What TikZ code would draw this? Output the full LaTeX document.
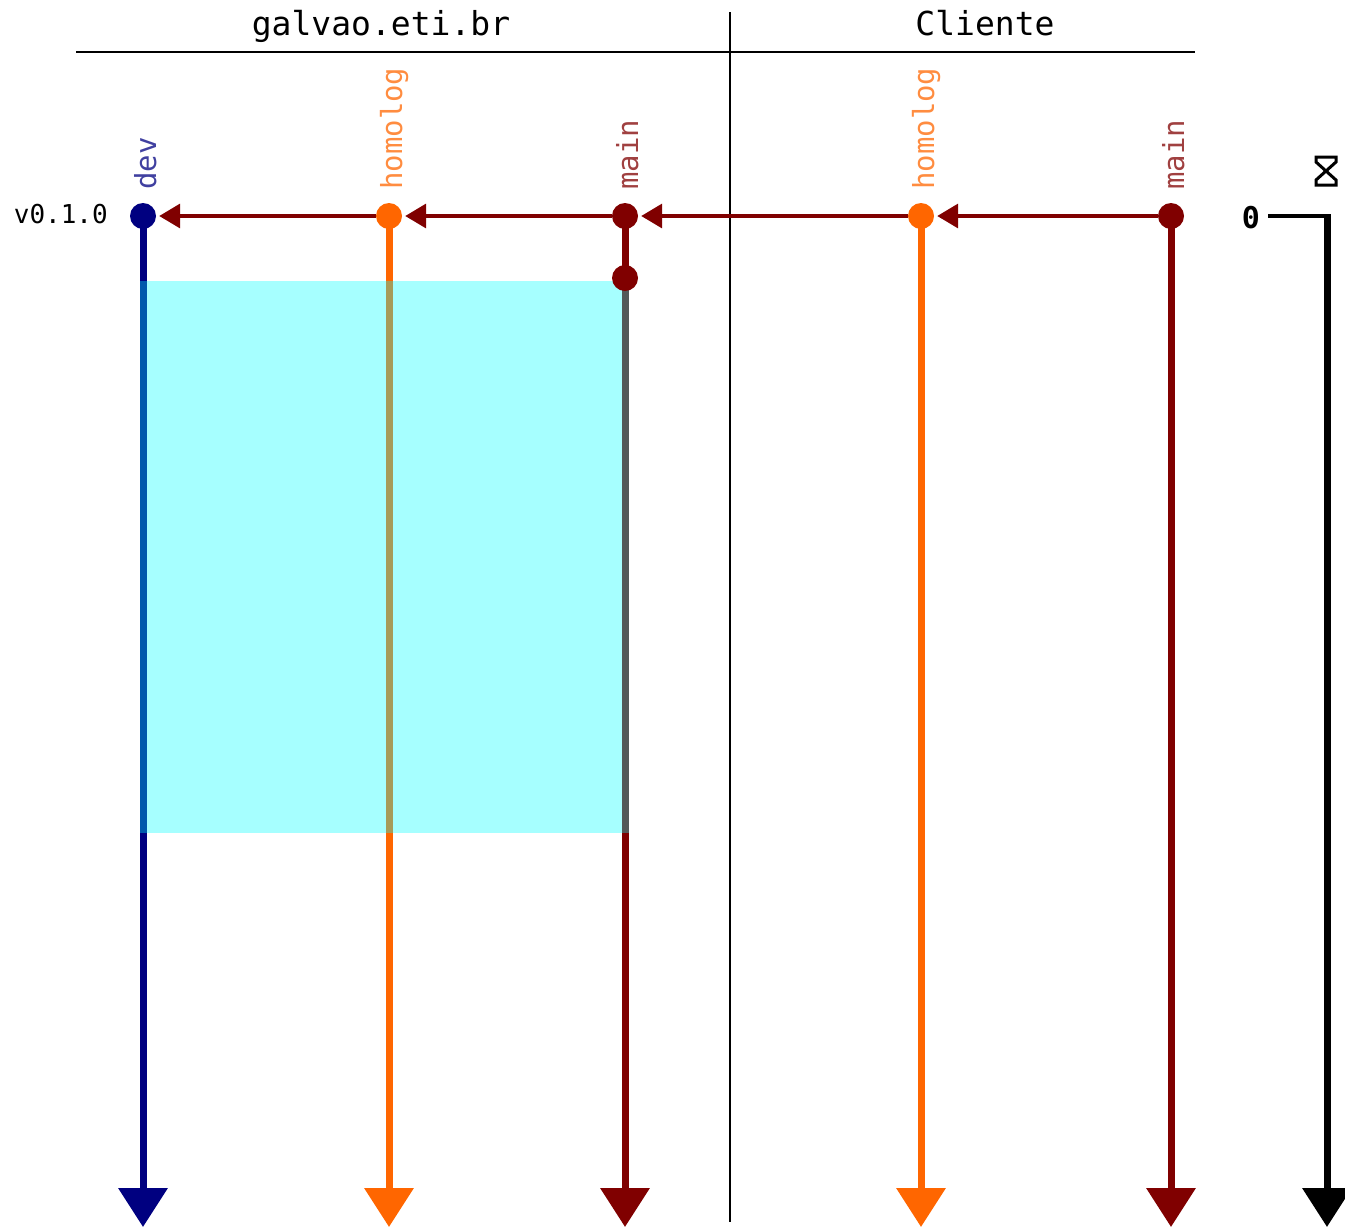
\documentclass[tikz,border=0pt]{standalone}
\usepackage{fontspec}
\newfontfamily\dmono{DejaVu Sans Mono}
\usetikzlibrary{arrows.meta}
\definecolor{navyc}{RGB}{0,0,128}
\definecolor{orangec}{RGB}{255,102,0}
\definecolor{maroonc}{RGB}{128,0,0}
\definecolor{aquac}{RGB}{0,255,255}
\begin{document}
\begin{tikzpicture}[x=1pt,y=-1pt,
  dot/.style={circle,inner sep=0pt,minimum size=26pt},
  branch/.style={line width=7pt,-{Triangle[length=39pt,width=48pt]}},
  merge/.style={line width=3.5pt,draw=maroonc,-{Triangle[length=21pt,width=24pt]},shorten >=3pt},
  lbl/.style={rotate=90,anchor=base west,inner sep=0pt,font=\dmono\fontsize{29}{30}\selectfont,text opacity=0.75},
  ttl/.style={anchor=base,inner sep=0pt,font=\dmono\fontsize{33}{36}\selectfont},
  rule/.style={line width=1.5pt,black}]
\useasboundingbox (0,0) rectangle (1345,1227);

% titles and rules
\node[ttl] (tGalvao) at (381,35) {galvao.eti.br};
\node[ttl] (tCliente) at (985,35) {Cliente};
\coordinate (hrL) at (76,52);
\coordinate (hrR) at (1195,52);
\coordinate (vrT) at (730,12);
\coordinate (vrB) at (730,1222);
\draw[rule] (hrL) -- (hrR);
\draw[rule] (vrT) -- (vrB);

% branch anchors
\coordinate (cDev) at (143,216);
\coordinate (cHo) at (389,216);
\coordinate (cMain) at (625,216);
\coordinate (cCHo) at (921,216);
\coordinate (cCMain) at (1171,216);
\coordinate (eDev) at (143,1227);
\coordinate (eHo) at (389,1227);
\coordinate (eMain) at (625,1227);
\coordinate (eCHo) at (921,1227);
\coordinate (eCMain) at (1171,1227);

% vertical branch lines
\draw[branch,navyc] (cDev) -- (eDev);
\draw[branch,orangec] (cHo) -- (eHo);
\draw[branch,maroonc] (cMain) -- (eMain);
\draw[branch,orangec] (cCHo) -- (eCHo);
\draw[branch,maroonc] (cCMain) -- (eCMain);

% highlighted region
\fill[aquac,opacity=0.35] (139.5,281) rectangle (628.5,833);

% dots
\node[dot,fill=navyc] (dDev) at (cDev) {};
\node[dot,fill=orangec] (dHo) at (cHo) {};
\node[dot,fill=maroonc] (dMain) at (cMain) {};
\node[dot,fill=maroonc] (dMain2) at (625,278) {};
\node[dot,fill=orangec] (dCHo) at (cCHo) {};
\node[dot,fill=maroonc] (dCMain) at (cCMain) {};

% merge arrows
\draw[merge] (dCMain) -- (dCHo);
\draw[merge] (dCHo) -- (dMain);
\draw[merge] (dMain) -- (dHo);
\draw[merge] (dHo) -- (dDev);

% branch labels
\node[lbl,text=navyc] (lDev) at (156,190) {dev};
\node[lbl,text=orangec] (lHo) at (402,190) {homolog};
\node[lbl,text=maroonc] (lMain) at (638,190) {main};
\node[lbl,text=orangec] (lCHo) at (934,190) {homolog};
\node[lbl,text=maroonc] (lCMain) at (1184,190) {main};

% version tag
\node[anchor=base east,inner sep=0pt,font=\dmono\fontsize{26}{28}\selectfont] (ver) at (108,223) {v0.1.0};

% timeline
\node[anchor=base,inner sep=0pt,font=\dmono\bfseries\fontsize{30}{32}\selectfont] (zero) at (1251,228) {0};
\coordinate (tlS) at (1268,216);
\coordinate (tlC) at (1330.5,216);
\coordinate (tlT) at (1327,214);
\coordinate (tlE) at (1327,1227);
\draw[line width=4pt] (tlS) -- (tlC);
\draw[line width=7pt,-{Triangle[length=39pt,width=48pt]}] (tlT) -- (tlE);

% hourglass
\draw[line width=3pt,line join=miter] (1316,157) -- (1336,157) -- (1336,162) -- (1326,171) -- (1336,180) -- (1336,185) -- (1316,185) -- (1316,180) -- (1326,171) -- (1316,162) -- cycle;
\end{tikzpicture}
\end{document}
